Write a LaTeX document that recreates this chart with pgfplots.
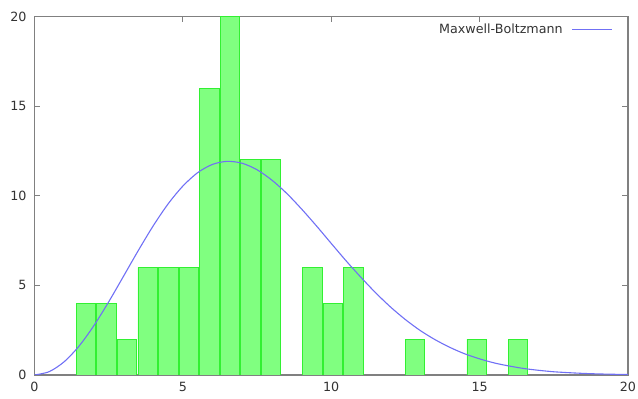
\documentclass[border=0pt]{standalone}
\usepackage{fontspec}
\setmainfont{DejaVu Sans}
\usepackage{pgfplots}
\pgfplotsset{compat=1.18}
\definecolor{barfill}{RGB}{128,255,128}
\definecolor{barline}{RGB}{50,240,50}
\definecolor{mbblue}{RGB}{112,112,245}
\definecolor{axgray}{RGB}{128,128,128}
\begin{document}
\begin{tikzpicture}
\begin{axis}[
  scale only axis, width=593.5pt, height=358.5pt,
  xmin=0, xmax=20, ymin=0, ymax=20,
  xtick={0,5,...,20}, ytick={0,5,...,20},
  /pgf/number format/assume math mode=true,
  tick label style={font=\fontsize{12.7}{15}\selectfont, text=black!80},
  xticklabel style={yshift=-3.5pt},
  yticklabel style={xshift=-4.5pt},
  axis line style={axgray, line width=1.2pt},
  major tick style={axgray, line width=1pt},
  major tick length=6pt,
  legend style={draw=none, fill=none, at={(1,1)}, anchor=north east,
    xshift=-12pt, yshift=-3.5pt, font=\fontsize{12.7}{15}\selectfont, text=black!80},
  legend cell align=right,
  legend plot pos=right,
  legend image code/.code={\draw[#1] (0pt,0pt) -- (40pt,0pt);},
]
\addplot[ybar, bar width=0.655, fill=barfill, draw=barline, line width=0.8pt, forget plot]
coordinates {
(1.735,4) (2.428,4) (3.121,2) (3.814,6) (4.507,6) (5.200,6) (5.893,16) (6.586,20)
(7.279,12) (7.972,12) (9.358,6) (10.051,4) (10.744,6) (12.823,2) (14.902,2) (16.288,2)
};
\addplot[mbblue, line width=1.1pt, smooth] coordinates {
(0,0) (0.5,0.19) (1.0,0.74) (1.5,1.61) (2.0,2.75) (2.5,4.08) (3.0,5.51) (3.5,6.95)
(4.0,8.32) (4.5,9.54) (5.0,10.54) (5.5,11.29) (6.0,11.75) (6.5,11.92) (7.0,11.81)
(7.5,11.45) (8.0,10.87) (8.5,10.13) (9.0,9.26) (9.5,8.32) (10.0,7.34) (10.5,6.37)
(11.0,5.45) (11.5,4.58) (12.0,3.79) (12.5,3.09) (13.0,2.48) (13.5,1.97) (14.0,1.54)
(14.5,1.18) (15.0,0.90) (15.5,0.67) (16.0,0.50) (16.5,0.36) (17.0,0.26) (17.5,0.18)
(18.0,0.13) (18.5,0.089) (19.0,0.060) (19.5,0.041) (20.0,0.027)
};
\addlegendentry{Maxwell-Boltzmann\kern7pt\null}
\end{axis}
\pgfresetboundingbox
\path[use as bounding box] ([xshift=-34.5pt,yshift=-24pt]current axis.south west) rectangle ([xshift=10pt,yshift=16.5pt]current axis.north east);
\end{tikzpicture}
\end{document}
